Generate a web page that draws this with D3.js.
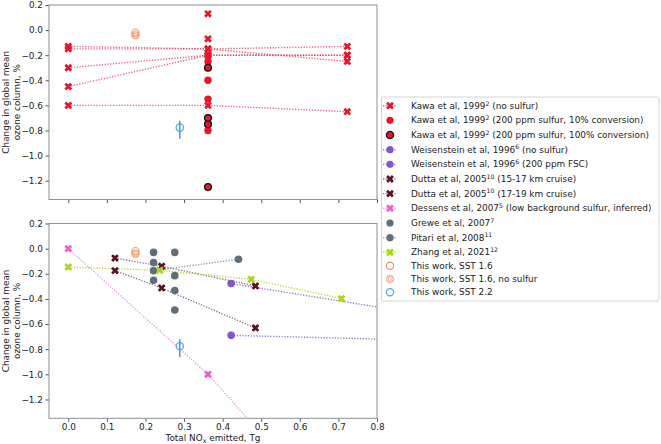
<!DOCTYPE html>
<html><head><meta charset="utf-8">
<script src="https://cdn.jsdelivr.net/npm/d3@7"></script>
<style>body{margin:0;background:#fff} svg{display:block} text{font-family:"DejaVu Sans",sans-serif;fill:#222}</style>
</head><body><svg id="c" width="661" height="444"></svg>
<script>
// ---------------- data ----------------
const xTicks = [0, 0.1, 0.2, 0.3, 0.4, 0.5, 0.6, 0.7, 0.8];
const yTicks = [0.2, 0, -0.2, -0.4, -0.6, -0.8, -1.0, -1.2];

// Kawa et al 1999 (top panel)
const kawaNoSulfurLines = [
  [[0, -0.13], [0.362, -0.15], [0.723, -0.13]],
  [[0, -0.15], [0.362, -0.15], [0.723, -0.25]],
  [[0, -0.30], [0.362, -0.20], [0.723, -0.20]],
  [[0, -0.45], [0.362, -0.20], [0.723, -0.20]],
  [[0, -0.60], [0.362, -0.60], [0.723, -0.65]]
];
const kawaNoSulfurSingles = [[0.362, 0.13], [0.362, -0.07]];
const kawa10pct = [[0.362, -0.20], [0.362, -0.25], [0.362, -0.40], [0.362, -0.55], [0.362, -0.80]];
const kawa100pct = [[0.362, -0.30], [0.362, -0.70], [0.362, -0.75], [0.362, -1.25]];

// bottom panel
const weisNoSulfur = [[0.422, -0.278], [1.26, -0.69]];
const weisFSC = [[0.422, -0.690], [1.26, -0.755]];
const dutta1517 = [[0.121, -0.075], [0.242, -0.14], [0.485, -0.297]];
const dutta1719 = [[0.121, -0.175], [0.242, -0.313], [0.485, -0.631]];
const dessens = [[0, 0], [0.362, -1.0], [0.72, -2.23]];
const grewe = [[0.221, -0.03], [0.221, -0.11], [0.221, -0.252], [0.276, -0.03], [0.276, -0.215], [0.276, -0.334], [0.276, -0.488]];
const pitari = [[0.221, -0.175], [0.441, -0.085]];
const zhang = [[0, -0.146], [0.237, -0.172], [0.474, -0.244], [0.708, -0.397]];

// this work (both panels)
const sst16 = [0.174, -0.02];
const sst16NoSulfur = [0.174, -0.04];
const sst22 = [0.289, -0.777];
const sst22Err = [-0.722, -0.865];

const legendItems = [
  {a: "Kawa et al, 1999", s: "2", b: " (no sulfur)", k: "kawaX"},
  {a: "Kawa et al, 1999", s: "2", b: " (200 ppm sulfur, 10% conversion)", k: "kawa10"},
  {a: "Kawa et al, 1999", s: "2", b: " (200 ppm sulfur, 100% conversion)", k: "kawa100"},
  {a: "Weisenstein et al, 1996", s: "6", b: " (no sulfur)", k: "weis"},
  {a: "Weisenstein et al, 1996", s: "6", b: " (200 ppm FSC)", k: "weis"},
  {a: "Dutta et al, 2005", s: "10", b: " (15-17 km cruise)", k: "dutta"},
  {a: "Dutta et al, 2005", s: "10", b: " (17-19 km cruise)", k: "dutta"},
  {a: "Dessens et al, 2007", s: "5", b: " (low background sulfur, inferred)", k: "dessens"},
  {a: "Grewe et al, 2007", s: "7", b: "", k: "grewe"},
  {a: "Pitari et al, 2008", s: "11", b: "", k: "pitari"},
  {a: "Zhang et al, 2021", s: "12", b: "", k: "zhang"},
  {a: "This work, SST 1.6", s: "", b: "", k: "sst16"},
  {a: "This work, SST 1.6, no sulfur", s: "", b: "", k: "sst16ns"},
  {a: "This work, SST 2.2", s: "", b: "", k: "sst22"}
];

// ---------------- styles ----------------
const C = {
  kawa: "#e8152b", kawaLine: "#ee3d5c",
  weis: "#8155cf", dutta: "#5b1126", duttaLine: "#7a4a78",
  dessens: "#e860cc", dessensLine: "#f08ee0",
  grewe: "#5f6e78", zhang: "#a8d61e",
  sst16: "#f28a5e", sst16ns: "#f4a48a", sst22: "#4ea6e0",
  spine: "#8a9099"
};
const DASH = "1.3,1.5";
const FS = 8.9, SUP = 6.2;

const svg = d3.select("#c");
const L = 49, R = 377;
const x = d3.scaleLinear().domain([-0.05, 0.8]).range([L, R]);
const panels = [
  {top: 5, bottom: 199.5, labels: false},
  {top: 223.5, bottom: 418.3, labels: true}
];

const xMarker = d3.symbol(d3.symbolCross, 38);
function drawX(g, pts, y, fill, stroke) {
  g.selectAll(null).data(pts).join("path")
    .attr("d", xMarker)
    .attr("transform", d => `translate(${x(d[0])},${y(d[1])}) rotate(45)`)
    .attr("fill", fill).attr("stroke", stroke || "none").attr("stroke-width", 0.5);
}
function drawDots(g, pts, y, fill, r, stroke, sw) {
  g.selectAll(null).data(pts).join("circle")
    .attr("cx", d => x(d[0])).attr("cy", d => y(d[1])).attr("r", r)
    .attr("fill", fill).attr("stroke", stroke || "none").attr("stroke-width", sw || 0);
}
function drawLine(g, pts, y, color, op) {
  g.append("path").datum(pts)
    .attr("d", d3.line().x(d => x(d[0])).y(d => y(d[1])))
    .attr("fill", "none").attr("stroke", color).attr("stroke-width", 1.4)
    .attr("stroke-dasharray", DASH).attr("opacity", op == null ? 0.85 : op);
}
function drawThisWork(g, y) {
  const p = [x(sst16NoSulfur[0]), y(sst16NoSulfur[1])];
  g.append("circle").attr("cx", p[0]).attr("cy", p[1]).attr("r", 4.3)
    .attr("fill", "#fff6c8").attr("stroke", "#f3e08a").attr("stroke-width", 1).attr("opacity", 0.9);
  g.append("circle").attr("cx", p[0]).attr("cy", p[1]).attr("r", 3.4)
    .attr("fill", "none").attr("stroke", C.sst16ns).attr("stroke-width", 1.1);
  g.append("path").attr("d", d3.symbol(d3.symbolCross, 14)())
    .attr("transform", `translate(${p[0]},${p[1]}) rotate(45)`)
    .attr("fill", "none").attr("stroke", C.sst16ns).attr("stroke-width", 0.8);
  g.append("circle").attr("cx", x(sst16[0])).attr("cy", y(sst16[1])).attr("r", 3.6)
    .attr("fill", "none").attr("stroke", C.sst16).attr("stroke-width", 1.1).attr("opacity", 0.85);
  g.append("line").attr("x1", x(sst22[0])).attr("x2", x(sst22[0]))
    .attr("y1", y(sst22Err[0])).attr("y2", y(sst22Err[1]))
    .attr("stroke", "#3d8fd0").attr("stroke-width", 1.4);
  g.append("circle").attr("cx", x(sst22[0])).attr("cy", y(sst22[1])).attr("r", 3.7)
    .attr("fill", "none").attr("stroke", C.sst22).attr("stroke-width", 1.2);
}

panels.forEach((P, i) => {
  const y = d3.scaleLinear().domain([-1.35, 0.2]).range([P.bottom, P.top]);
  const clipId = "clip" + i;
  svg.append("clipPath").attr("id", clipId).append("rect")
    .attr("x", L).attr("y", P.top).attr("width", R - L).attr("height", P.bottom - P.top);

  const ax = d3.axisBottom(x).tickValues(xTicks).tickSize(3.5).tickPadding(2)
    .tickFormat(P.labels ? d3.format(".1f") : () => "");
  const gx = svg.append("g").attr("transform", `translate(0,${P.bottom})`).call(ax);
  const ay = d3.axisLeft(y).tickValues(yTicks).tickSize(3.5).tickPadding(2.5)
    .tickFormat(d => d3.format(".1f")(d).replace("-", "\u2212"));
  const gy = svg.append("g").attr("transform", `translate(${L},0)`).call(ay);
  [gx, gy].forEach(g => {
    g.select(".domain").remove();
    g.selectAll(".tick line").attr("stroke", "#555");
    g.selectAll(".tick text").attr("font-size", FS).attr("fill", "#222")
      .attr("font-family", "DejaVu Sans");
  });
  svg.append("rect").attr("x", L).attr("y", P.top).attr("width", R - L).attr("height", P.bottom - P.top)
    .attr("fill", "none").attr("stroke", C.spine).attr("stroke-width", 1);

  const cy = (P.top + P.bottom) / 2;
  ["Change in global mean", "ozone column, %"].forEach((t, j) => {
    svg.append("text").attr("transform", `translate(${6 + j * 10.8},${cy}) rotate(-90)`)
      .attr("text-anchor", "middle").attr("dominant-baseline", "central")
      .attr("font-size", FS).text(t);
  });

  const g = svg.append("g").attr("clip-path", `url(#${clipId})`);
  if (i === 0) {
    kawaNoSulfurLines.forEach(s => drawLine(g, s, y, C.kawaLine, 0.8));
    kawaNoSulfurLines.forEach(s => drawX(g, s, y, C.kawa));
    drawX(g, kawaNoSulfurSingles, y, C.kawa);
    drawDots(g, kawa10pct, y, C.kawa, 3.7);
    drawDots(g, kawa100pct, y, C.kawa, 3.4, "#111", 1.3);
    drawThisWork(g, y);
  } else {
    drawLine(g, dessens, y, C.dessensLine, 0.9);
    drawLine(g, weisNoSulfur, y, C.weis, 0.8);
    drawLine(g, weisFSC, y, C.weis, 0.8);
    drawLine(g, dutta1517, y, C.duttaLine, 0.8);
    drawLine(g, dutta1719, y, C.duttaLine, 0.8);
    drawLine(g, pitari, y, C.grewe, 0.7);
    drawLine(g, zhang, y, C.zhang, 0.85);
    drawDots(g, grewe, y, C.grewe, 3.8);
    drawDots(g, pitari, y, C.grewe, 3.8);
    drawDots(g, weisNoSulfur, y, C.weis, 3.8);
    drawDots(g, weisFSC, y, C.weis, 3.8);
    drawX(g, dessens, y, C.dessens);
    drawX(g, dutta1517, y, C.dutta);
    drawX(g, dutta1719, y, C.dutta);
    drawX(g, zhang, y, C.zhang);
    drawThisWork(g, y);
  }
});

const xl = svg.append("text").attr("x", (L + R) / 2).attr("y", 441)
  .attr("text-anchor", "middle").attr("font-size", FS);
xl.append("tspan").text("Total NO");
xl.append("tspan").attr("font-size", SUP).attr("dy", 2).text("x");
xl.append("tspan").attr("dy", -2).text(" emitted, Tg");

const lg = svg.append("g");
lg.append("rect").attr("x", 381.5).attr("y", 97).attr("width", 277.5).attr("height", 204).attr("rx", 2)
  .attr("fill", "#fff").attr("stroke", "#d4d4d4").attr("stroke-width", 1);
const rowY = legendItems.map((d, i) => i < 11 ? 105.7 + i * 14.66 : 265.7 + (i - 11) * 13.3);
legendItems.forEach((it, i) => {
  const yy = rowY[i], mx = 390;
  const g = lg.append("g");
  const line = (c, op) => g.append("line").attr("x1", 383).attr("x2", 397).attr("y1", yy).attr("y2", yy)
    .attr("stroke", c).attr("stroke-width", 1.4).attr("stroke-dasharray", DASH).attr("opacity", op);
  const xm = c => g.append("path").attr("d", xMarker).attr("transform", `translate(${mx},${yy}) rotate(45)`).attr("fill", c);
  const dot = (c, st) => g.append("circle").attr("cx", mx).attr("cy", yy).attr("r", 3.6).attr("fill", c)
    .attr("stroke", st || "none").attr("stroke-width", st ? 1.3 : 0);
  switch (it.k) {
    case "kawaX": line(C.kawaLine, 0.8); xm(C.kawa); break;
    case "kawa10": dot(C.kawa); break;
    case "kawa100": dot(C.kawa, "#111"); break;
    case "weis": line(C.weis, 0.8); dot(C.weis); break;
    case "dutta": line(C.duttaLine, 0.8); xm(C.dutta); break;
    case "dessens": line(C.dessensLine, 0.9); xm(C.dessens); break;
    case "grewe": dot(C.grewe); break;
    case "pitari": line(C.grewe, 0.7); dot(C.grewe); break;
    case "zhang": line(C.zhang, 0.85); xm(C.zhang); break;
    case "sst16": g.append("circle").attr("cx", mx).attr("cy", yy).attr("r", 3.6).attr("fill", "none").attr("stroke", C.sst16).attr("stroke-width", 1.1); break;
    case "sst16ns":
      g.append("circle").attr("cx", mx).attr("cy", yy).attr("r", 3.4).attr("fill", "none").attr("stroke", C.sst16ns).attr("stroke-width", 1.1);
      g.append("path").attr("d", d3.symbol(d3.symbolCross, 14)()).attr("transform", `translate(${mx},${yy}) rotate(45)`)
        .attr("fill", "none").attr("stroke", C.sst16ns).attr("stroke-width", 0.8); break;
    case "sst22": g.append("circle").attr("cx", mx).attr("cy", yy).attr("r", 3.6).attr("fill", "none").attr("stroke", C.sst22).attr("stroke-width", 1.2); break;
  }
  const t = g.append("text").attr("x", 411).attr("y", yy).attr("dominant-baseline", "central").attr("font-size", FS);
  t.append("tspan").text(it.a);
  if (it.s) {
    t.append("tspan").attr("font-size", SUP).attr("dy", -3.2).text(it.s);
    t.append("tspan").attr("dy", 3.2).text(it.b);
  }
});
</script>
</body></html>
